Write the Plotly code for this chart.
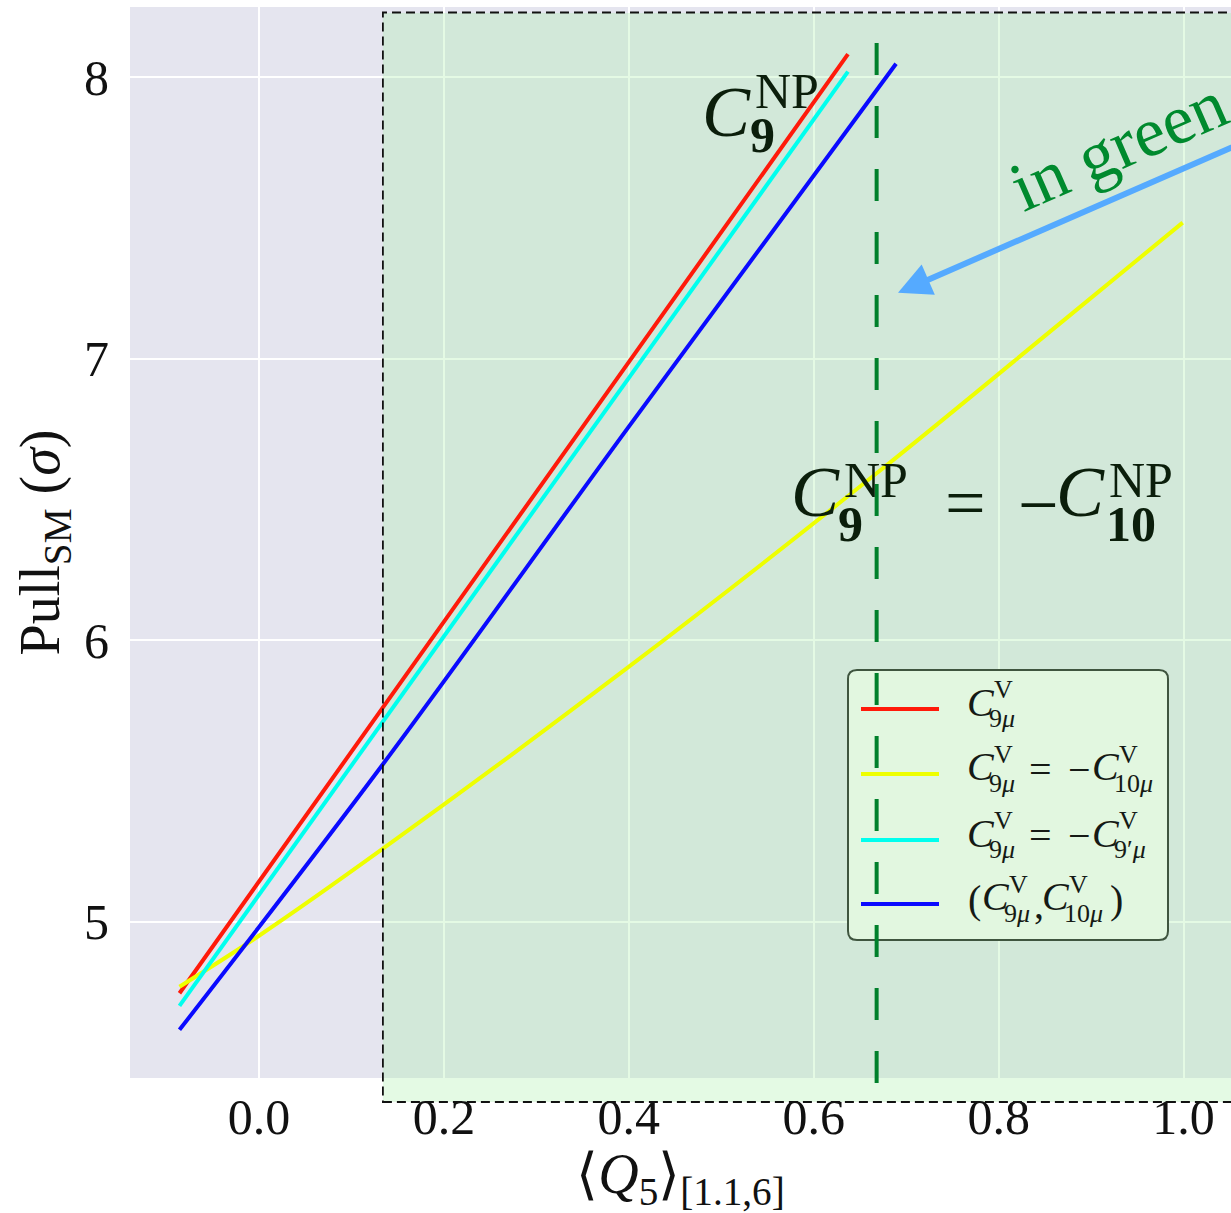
import plotly.graph_objects as go

# ---- data: <Q5>_[1.1,6] vs. Pull_SM for four NP scenarios ----
q5_c9 = [-0.086, 0.134, 0.398, 0.637]
pull_c9 = [4.747, 5.764, 6.979, 8.081]

q5_c9_c10 = [-0.086, 0.000, 0.134, 0.398, 0.668, 0.870, 0.999]
pull_c9_c10 = [4.770, 4.951, 5.260, 5.901, 6.593, 7.135, 7.483]

q5_c9_c9p = [-0.086, 0.134, 0.398, 0.637]
pull_c9_c9p = [4.702, 5.712, 6.923, 8.019]

q5_c9_c10_2d = [-0.086, 0.134, 0.398, 0.689]
pull_c9_c10_2d = [4.617, 5.560, 6.750, 8.047]

series_names = ["C9μ V", "C9μ V = -C10μ V", "C9μ V = -C9'μ V", "(C9μ V, C10μ V)"]
series_colors = ["#ff1a0a", "#eeff00", "#00ffee", "#0a0aff"]
series_x = [q5_c9, q5_c9_c10, q5_c9_c9p, q5_c9_c10_2d]
series_y = [pull_c9, pull_c9_c10, pull_c9_c9p, pull_c9_c10_2d]
series_shape = ["linear", "spline", "linear", "spline"]

x_ticks = [0.0, 0.2, 0.4, 0.6, 0.8, 1.0]
y_ticks = [5, 6, 7, 8]

q5_region_start = 0.134      # left edge of the shaded region
q5_measured = 0.668          # vertical reference line

# arrow pointing at the reference line (tail, head) in data units
arrow_tail = (1.1454, 7.8835)
arrow_head = (0.6911, 7.2337)

# ---- geometry ----
W, H = 1231, 1213
ML, MR, MT, MB = 130, 0, 7, 135
PW, PH = W - ML - MR, H - MT - MB
SERIF = "Liberation Serif"
DARK = "#0b1e0b"
GREEN = "#008a2e"
LEGTXT = "#151a15"


def px(xp):
    return (xp - ML) / PW


def py(yp):
    return (H - MB - yp) / PH


fig = go.Figure()
for name, col, xs, ys, shp in zip(series_names, series_colors, series_x, series_y, series_shape):
    fig.add_trace(go.Scatter(x=xs, y=ys, mode="lines", name=name,
                             line=dict(color=col, width=4, shape=shp),
                             showlegend=False))

shapes = []
fill = "rgba(168,239,168,0.31)"
# shaded region inside the axes (over grid, under curves)
shapes.append(dict(type="rect", xref="x", yref="y", layer="between",
                   x0=q5_region_start, x1=2.0, y0=3.0, y1=8.2275,
                   fillcolor=fill, line=dict(width=0)))
# its continuation below the axes
shapes.append(dict(type="rect", xref="x", yref="paper", layer="below",
                   x0=q5_region_start, x1=2.0, y0=py(1102), y1=0,
                   fillcolor=fill, line=dict(width=0)))
# dashed outline of the region
shapes.append(dict(type="rect", xref="x", yref="paper", layer="above",
                   x0=q5_region_start, x1=2.0, y0=py(1102), y1=py(12.5),
                   fillcolor="rgba(0,0,0,0)",
                   line=dict(color="#111111", width=1.8, dash="9px,5px")))

# legend frame (rounded)
lx0, lx1, ly0, ly1, r = 848, 1168, 670, 940, 9
rx, ry = r / PW, r / PH
X0, X1, Y0, Y1 = px(lx0), px(lx1), py(ly1), py(ly0)
path = (f"M{X0+rx},{Y0} L{X1-rx},{Y0} Q{X1},{Y0} {X1},{Y0+ry} "
        f"L{X1},{Y1-ry} Q{X1},{Y1} {X1-rx},{Y1} L{X0+rx},{Y1} "
        f"Q{X0},{Y1} {X0},{Y1-ry} L{X0},{Y0+ry} Q{X0},{Y0} {X0+rx},{Y0} Z")
shapes.append(dict(type="path", xref="paper", yref="paper", layer="above",
                   path=path, fillcolor="#e2f7e0",
                   line=dict(color="#3f553f", width=2)))
legend_rows = [709, 774, 840, 904]
for col, yr in zip(series_colors, legend_rows):
    shapes.append(dict(type="line", xref="paper", yref="paper", layer="above",
                       x0=px(861), x1=px(939), y0=py(yr), y1=py(yr),
                       line=dict(color=col, width=4)))

# vertical reference line
shapes.append(dict(type="line", xref="x", yref="paper", layer="above",
                   x0=q5_measured, x1=q5_measured, y0=py(43), y1=py(1100),
                   line=dict(color="#00802b", width=4, dash="32px,31px")))

annotations = []


def put(text, x, y, size, color, bold=False, italic=False):
    s = text
    if bold:
        s = f"<b>{s}</b>"
    if italic:
        s = f"<i>{s}</i>"
    annotations.append(dict(text=s, x=px(x), y=py(y), xref="paper", yref="paper",
                            xanchor="left", yanchor="middle", showarrow=False,
                            font=dict(family=SERIF, size=size, color=color)))


# C_9^NP
put("C", 700, 112, 72, DARK, italic=True)
put("NP", 753, 91, 50, DARK)
put("9", 748, 135, 50, DARK, bold=True)

# C_9^NP = -C_10^NP
put("C", 789, 492, 72, DARK, italic=True)
put("NP", 842, 480, 50, DARK)
put("9", 836, 524, 50, DARK, bold=True)
put("=", 943, 503, 72, DARK)
put("\u2212", 1016, 505, 72, DARK)
put("C", 1054, 492, 72, DARK, italic=True)
put("NP", 1107, 480, 50, DARK)
put("10", 1104, 524, 50, DARK, bold=True)


# legend labels: C^V with subscripts
def coeff(x, yr, sub):
    put("C", x, yr - 7, 40, LEGTXT, italic=True)
    put("V", x + 27, yr - 20, 26, LEGTXT)
    put(sub, x + 22, yr + 9, 26, LEGTXT)


y1r, y2r, y3r, y4r = legend_rows
coeff(965, y1r, "9<i>μ</i>")

coeff(965, y2r, "9<i>μ</i>")
put("=", 1027, y2r - 5, 40, LEGTXT)
put("\u2212", 1066, y2r - 5, 40, LEGTXT)
coeff(1090, y2r, "10<i>μ</i>")

coeff(965, y3r, "9<i>μ</i>")
put("=", 1027, y3r - 5, 40, LEGTXT)
put("\u2212", 1066, y3r - 5, 40, LEGTXT)
coeff(1090, y3r, "9\u2032<i>μ</i>")

put("(", 966, y4r - 5, 40, LEGTXT)
coeff(980, y4r, "9<i>μ</i>")
put(",", 1032, y4r, 40, LEGTXT)
coeff(1040, y4r, "10<i>μ</i>")
put(")", 1108, y4r - 5, 40, LEGTXT)

# rotated note and arrow
annotations.append(dict(text="in green", x=px(1118), y=py(146), xref="paper", yref="paper",
                        xanchor="center", yanchor="middle", showarrow=False, textangle=-23.5,
                        font=dict(family=SERIF, size=70, color=GREEN)))
annotations.append(dict(text="", x=arrow_head[0], y=arrow_head[1], xref="x", yref="y",
                        ax=arrow_tail[0], ay=arrow_tail[1], axref="x", ayref="y",
                        showarrow=True, arrowhead=2, arrowsize=1.1,
                        arrowwidth=6, arrowcolor="#55aaff"))

x_lo = (ML - 259) / 924.6
x_hi = (W - 259) / 924.6
y_lo = 5 - (1078 - 922) / 281.6
y_hi = 8 + (77 - 7) / 281.6

fig.update_layout(
    width=W, height=H,
    margin=dict(l=ML, r=MR, t=MT, b=MB, pad=0),
    paper_bgcolor="white", plot_bgcolor="#e5e5ef",
    font=dict(family=SERIF, color="#111111"),
    shapes=shapes, annotations=annotations,
    xaxis=dict(range=[x_lo, x_hi], tickvals=x_ticks,
               ticktext=[f"{v:.1f}" for v in x_ticks],
               showgrid=True, gridcolor="white", gridwidth=2, zeroline=False,
               showline=False, ticks="", ticklabelstandoff=5,
               tickfont=dict(family=SERIF, size=50, color="#111111"),
               title=dict(text="\u27e8<i>Q</i><sub>5</sub>\u27e9<sub>[1.1,6]</sub>",
                          font=dict(family=SERIF, size=56, color="#111111"), standoff=8)),
    yaxis=dict(range=[y_lo, y_hi], tickvals=y_ticks,
               ticktext=[str(v) for v in y_ticks],
               showgrid=True, gridcolor="white", gridwidth=2, zeroline=False,
               showline=False, ticks="", ticklabelstandoff=20,
               tickfont=dict(family=SERIF, size=50, color="#111111"),
               title=dict(text="Pull<sub>SM</sub> (<i>σ</i>)",
                          font=dict(family=SERIF, size=56, color="#111111"), standoff=6)),
)

fig.write_html("out.html")
